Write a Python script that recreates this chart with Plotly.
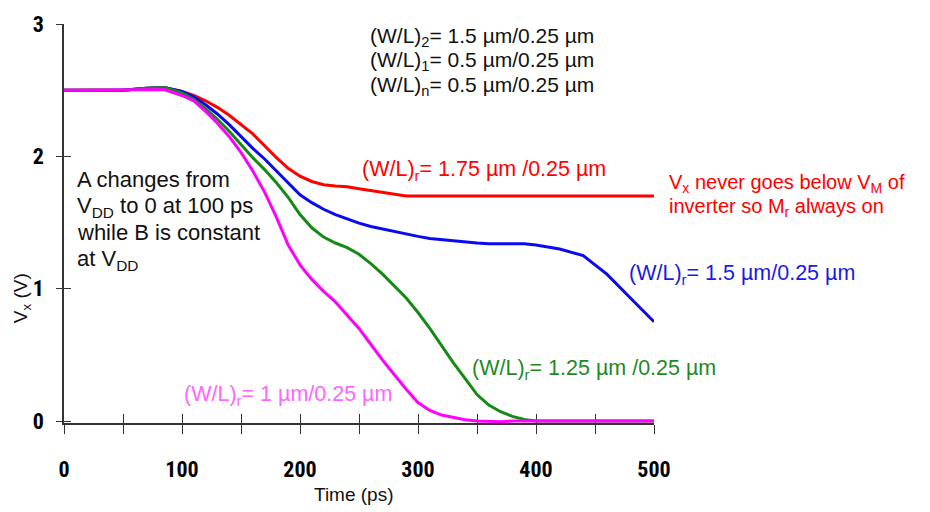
import plotly.graph_objects as go

# ---------------- data ----------------
TIME_PS = [0, 25, 50, 70, 85, 100, 110, 120, 130, 140, 150, 160, 170, 180, 190,
           200, 210, 220, 230, 240, 250, 260, 270, 280, 290, 300, 310, 320, 330,
           340, 350, 360, 370, 380, 390, 400, 420, 440, 460, 480, 500]

VX_175 = [2.50, 2.50, 2.50, 2.515, 2.52, 2.49, 2.46, 2.42, 2.37, 2.31, 2.24, 2.17,
          2.08, 1.99, 1.91, 1.85, 1.81, 1.785, 1.775, 1.77, 1.755, 1.74, 1.725,
          1.71, 1.70, 1.70, 1.70, 1.70, 1.70, 1.70, 1.70, 1.70, 1.70, 1.70, 1.70,
          1.70, 1.70, 1.70, 1.70, 1.70, 1.70]

VX_150 = [2.50, 2.50, 2.50, 2.515, 2.52, 2.49, 2.45, 2.39, 2.32, 2.24, 2.15, 2.06,
          1.98, 1.89, 1.80, 1.71, 1.65, 1.60, 1.56, 1.525, 1.495, 1.47, 1.45,
          1.43, 1.41, 1.395, 1.38, 1.37, 1.36, 1.355, 1.345, 1.34, 1.34, 1.34,
          1.34, 1.33, 1.30, 1.25, 1.11, 0.93, 0.75]

VX_125 = [2.50, 2.50, 2.50, 2.515, 2.52, 2.48, 2.43, 2.36, 2.28, 2.19, 2.09, 1.99,
          1.90, 1.80, 1.69, 1.56, 1.46, 1.39, 1.345, 1.31, 1.26, 1.19, 1.11,
          1.02, 0.93, 0.82, 0.70, 0.57, 0.44, 0.32, 0.20, 0.12, 0.07, 0.035,
          0.012, 0.0, 0.0, 0.0, 0.0, 0.0, 0.0]

VX_100 = [2.50, 2.50, 2.50, 2.505, 2.505, 2.46, 2.42, 2.34, 2.25, 2.15, 2.03, 1.89,
          1.73, 1.54, 1.33, 1.18, 1.07, 0.98, 0.90, 0.80, 0.70, 0.58, 0.46,
          0.35, 0.24, 0.14, 0.08, 0.045, 0.025, 0.01, 0.0, -0.005, -0.005, 0.0,
          0.0, 0.0, 0.0, 0.0, 0.0, 0.0, 0.0]

SERIES = [
    ("(W/L)r = 1.75", VX_175, "#ff0000"),
    ("(W/L)r = 1.5", VX_150, "#0a0af0"),
    ("(W/L)r = 1.25", VX_125, "#158a15"),
    ("(W/L)r = 1", VX_100, "#ff00ff"),
]

X_TICKS = [0, 50, 100, 150, 200, 250, 300, 350, 400, 450, 500]
X_LABELS = ["0", "", "100", "", "200", "", "300", "", "400", "", "500"]
Y_TICKS = [0, 1, 2, 3]
Y_LABELS = ["0", "1", "2", "3"]

# ---------------- figure ----------------
W, H = 930, 512
ML, MR, MT, MB = 64, 276, 17, 89

fig = go.Figure()
for name, vals, col in SERIES:
    fig.add_trace(go.Scatter(x=TIME_PS, y=vals, mode="lines", name=name,
                             line=dict(color=col, width=3), showlegend=False,
                             hoverinfo="skip"))
# empty traces so the overlay (inside-tick) axes get drawn
fig.add_trace(go.Scatter(x=[], y=[], xaxis="x2", yaxis="y", showlegend=False))
fig.add_trace(go.Scatter(x=[], y=[], xaxis="x", yaxis="y2", showlegend=False))

TICKFONT = dict(family="Liberation Sans Narrow, Arial Narrow, Roboto Condensed, sans-serif",
                size=22, color="#000000", weight="bold")
AXC = "#333333"

fig.update_layout(
    width=W, height=H,
    margin=dict(l=ML, r=MR, t=MT, b=MB, pad=0),
    paper_bgcolor="white", plot_bgcolor="white",
    xaxis=dict(range=[0, 500], tickmode="array", tickvals=X_TICKS, ticktext=X_LABELS,
               ticks="outside", ticklen=9, tickwidth=1.2, tickcolor=AXC,
               showline=True, linecolor=AXC, linewidth=1.5, showgrid=False,
               zeroline=False, tickfont=TICKFONT, ticklabelstandoff=17,
               layer="below traces", fixedrange=True),
    xaxis2=dict(range=[0, 500], overlaying="x", anchor="y", side="bottom",
                tickmode="array", tickvals=X_TICKS, ticks="inside", ticklen=9,
                tickwidth=1.2, tickcolor=AXC, showticklabels=False, showline=False,
                showgrid=False, zeroline=False, layer="below traces"),
    yaxis=dict(range=[-0.015, 3], tickmode="array", tickvals=Y_TICKS, ticktext=Y_LABELS,
               ticks="outside", ticklen=6, tickwidth=1.2, tickcolor=AXC,
               showline=True, linecolor=AXC, linewidth=1.5, showgrid=False,
               zeroline=False, tickfont=TICKFONT, ticklabelstandoff=8,
               layer="below traces", fixedrange=True),
    yaxis2=dict(range=[-0.015, 3], overlaying="y", anchor="x", side="left",
                tickmode="array", tickvals=Y_TICKS, ticks="inside", ticklen=7,
                tickwidth=1.2, tickcolor=AXC, showticklabels=False, showline=False,
                showgrid=False, zeroline=False, layer="below traces"),
)

PW = W - ML - MR
PH = H - MT - MB


def px(xp, yp):
    """pixel position in the window -> paper coordinates (for text placement)"""
    return (xp - ML) / PW, (H - MB - yp) / PH


FONT = "Liberation Sans, Arial, sans-serif"


def note(text, xpix, ypix, color, size=19, anchor="left", angle=0):
    x, y = px(xpix, ypix)
    fig.add_annotation(text=text, x=x, y=y, xref="paper", yref="paper",
                       xanchor=anchor, yanchor="middle", showarrow=False,
                       textangle=angle, font=dict(family=FONT, size=size, color=color))


# parameter block
note("(W/L)<sub>2</sub>= 1.5 µm/0.25 µm", 368, 30, "#111111", size=21)
note("(W/L)<sub>1</sub>= 0.5 µm/0.25 µm", 368, 55, "#111111", size=21)
note("(W/L)<sub>n</sub>= 0.5 µm/0.25 µm", 368, 80, "#111111", size=21)

# description block
note("A changes from", 75, 175, "#111111", size=22)
note("V<sub>DD</sub> to 0 at 100 ps", 75, 203, "#111111", size=22)
note("while B is constant", 75, 229, "#111111", size=22)
note("at V<sub>DD</sub>", 75, 257, "#111111", size=22)

# curve labels
note("(W/L)<sub>r</sub>= 1.75 µm /0.25 µm", 360, 166, "#ff0000", size=21.5)
note("V<sub>x</sub> never goes below V<sub>M</sub> of", 667, 179, "#ff0000", size=20)
note("inverter so M<sub>r</sub> always on", 667, 204, "#ff0000", size=20)
note("(W/L)<sub>r</sub>= 1.5 µm/0.25 µm", 627, 272, "#1a1ae6", size=21.5)
note("(W/L)<sub>r</sub>= 1.25 µm /0.25 µm", 470, 369, "#1f8a1f", size=21.5)
note("(W/L)<sub>r</sub>= 1 µm/0.25 µm", 182, 395, "#ff66ff", size=21.5)

# axis titles
note("Time (ps)", 354, 496, "#111111", size=19, anchor="center")
note("V<sub>x</sub> (V)", 22, 296, "#111111", size=19, anchor="center", angle=-90)

fig.write_html("out.html")
